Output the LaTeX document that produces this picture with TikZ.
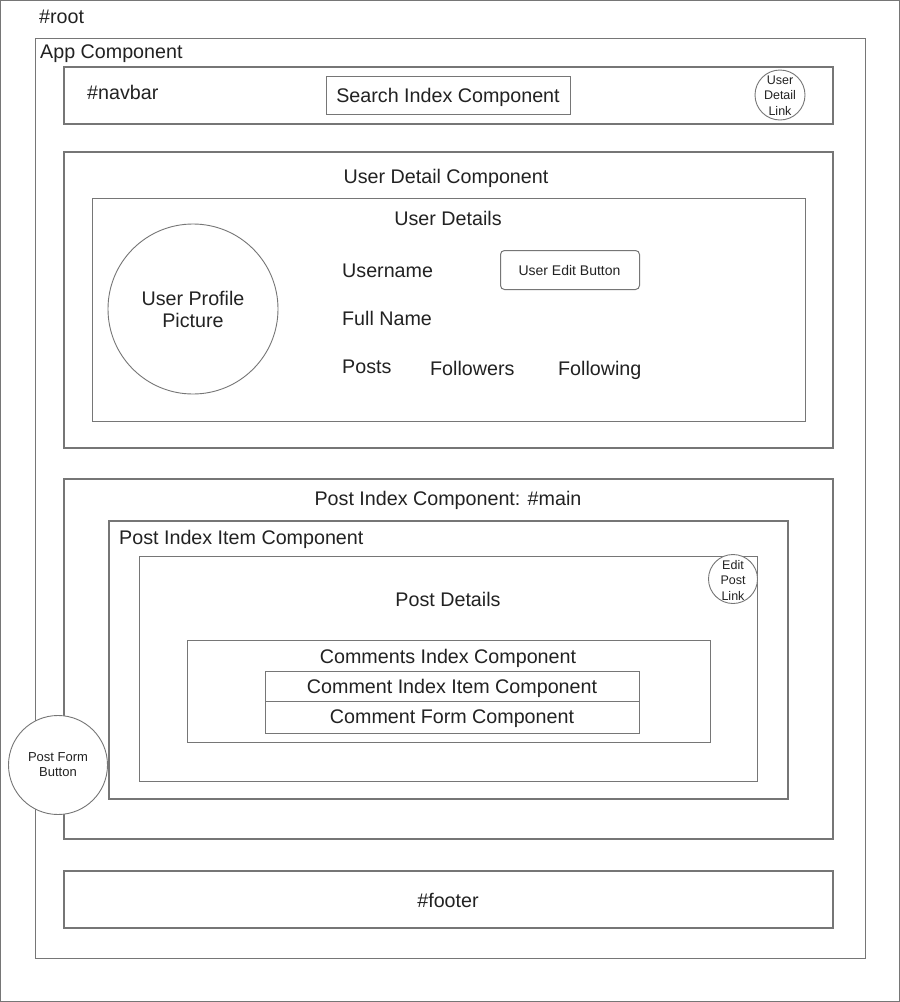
\documentclass[tikz,border=0pt]{standalone}
\usepackage{fontspec}
\setmainfont{Liberation Sans}
\definecolor{edge}{HTML}{767676}
\definecolor{ink}{HTML}{222222}
\begin{document}
\begin{tikzpicture}[x=1pt,y=-1pt,
  frame/.style={draw=edge, line width=0.9pt, inner sep=0pt, outer sep=0pt, anchor=north west},
  heavy/.style={draw=edge, line width=2.6pt, inner sep=0pt, outer sep=0pt, anchor=north west},
  disc/.style={circle, draw=edge, line width=0.9pt, inner sep=0pt, outer sep=0pt, fill=white},
  big/.style={text=ink, inner sep=0pt, font=\fontsize{19.7}{22}\selectfont},
  small/.style={text=ink, inner sep=0pt, align=center, font=\fontsize{13}{15}\selectfont},
  tiny/.style={text=ink, inner sep=0pt, align=center, font=\fontsize{12.5}{15.5}\selectfont},
]
\useasboundingbox (0,0) rectangle (900,1002);
\fill[white] (0,0) rectangle (900,1002);

% outer page and application shell
\node[frame, line width=1.4pt, minimum width=899pt, minimum height=1001pt] (root) at (0.5,0.5) {};
\node[big, anchor=base west] (rootlbl) at (39,23) {\#root};
\node[frame, minimum width=830pt, minimum height=920pt] (app) at (35,38) {};
\node[big, anchor=base west] (applbl) at (40,58) {App Component};

% navigation bar
\node[heavy, minimum width=769pt, minimum height=57pt] (navbar) at (64,67) {};
\node[big, anchor=base west] (navlbl) at (87,99) {\#navbar};
\node[frame, minimum width=244pt, minimum height=38pt] (search) at (326,76) {};
\node[big, anchor=base] (searchlbl) at (448,102) {Search Index Component};
\node[disc, minimum size=50pt] (userlink) at (780,95) {};
\node[tiny] (userlinklbl) at (780,95.5) {User\\Detail\\Link};

% user detail section
\node[heavy, minimum width=769pt, minimum height=296pt] (userdetail) at (64,152) {};
\node[big, anchor=base] (userdetaillbl) at (446,183) {User Detail Component};
\node[frame, minimum width=713pt, minimum height=223pt] (details) at (92,198) {};
\node[big, anchor=base] (detailslbl) at (448,225) {User Details};
\node[disc, minimum size=170pt] (picture) at (193,309) {};
\node[big, align=center] (picturelbl) at (193,309) {User Profile\\Picture};
\node[big, anchor=base west] (username) at (342,277) {Username};
\node[big, anchor=base west] (fullname) at (342,325) {Full Name};
\node[big, anchor=base west] (posts) at (342,373) {Posts};
\node[big, anchor=base west] (followers) at (430,375) {Followers};
\node[big, anchor=base west] (following) at (558,375) {Following};
\node[draw=edge, line width=1pt, rounded corners=4pt, minimum width=139pt, minimum height=39pt,
      inner sep=0pt, anchor=north west] (editbtn) at (500,250) {};
\node[small, font=\fontsize{14}{15}\selectfont] (editbtnlbl) at (569.5,270) {User Edit Button};

% post index section
\node[heavy, minimum width=769pt, minimum height=360pt] (postindex) at (64,479) {};
\node[big, anchor=base] (postindexlbl) at (448,505) {Post Index Component: \#main};
\node[heavy, minimum width=679pt, minimum height=278pt] (postitem) at (109,521) {};
\node[big, anchor=base west] (postitemlbl) at (119,544) {Post Index Item Component};
\node[frame, minimum width=618pt, minimum height=225pt] (postdetail) at (139,556) {};
\node[big, anchor=base] (postdetaillbl) at (448,606) {Post Details};
\node[disc, minimum size=49pt] (editlink) at (733,579) {};
\node[tiny] (editlinklbl) at (733,580) {Edit\\Post\\Link};

% comments
\node[frame, minimum width=523pt, minimum height=102pt] (comments) at (187,640) {};
\node[big, anchor=base] (commentslbl) at (448,663) {Comments Index Component};
\node[frame, minimum width=374pt, minimum height=30pt] (commentitem) at (265,671) {};
\node[big, anchor=base] (commentitemlbl) at (452,693) {Comment Index Item Component};
\node[frame, minimum width=374pt, minimum height=32pt] (commentform) at (265,701) {};
\node[big, anchor=base] (commentformlbl) at (452,723) {Comment Form Component};

% floating post form button
\node[disc, minimum size=99pt] (postform) at (58,765) {};
\node[small] (postformlbl) at (58,765) {Post Form\\Button};

% footer
\node[heavy, minimum width=769pt, minimum height=57pt] (footer) at (64,871) {};
\node[big, anchor=base] (footerlbl) at (448,907) {\#footer};
\end{tikzpicture}
\end{document}
